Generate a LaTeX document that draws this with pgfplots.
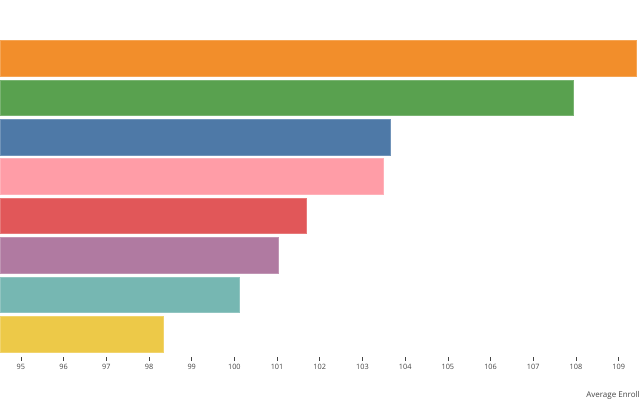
\documentclass[border=0pt]{standalone}
\usepackage{fontspec}
\setmainfont{Open Sans}
\usepackage{pgfplots}
\pgfplotsset{compat=1.18}
\definecolor{c1}{HTML}{F28E2B}
\definecolor{c2}{HTML}{59A14F}
\definecolor{c3}{HTML}{4E79A7}
\definecolor{c4}{HTML}{FF9DA7}
\definecolor{c5}{HTML}{E15759}
\definecolor{c6}{HTML}{B07AA1}
\definecolor{c7}{HTML}{76B7B2}
\definecolor{c8}{HTML}{EDC948}
\definecolor{tk}{HTML}{444444}
\begin{document}
\begin{tikzpicture}
\path[use as bounding box] (0,-32.25pt) rectangle (480pt,267.75pt);
\begin{axis}[
  at={(0,0)}, anchor=south west,
  scale only axis, width=480pt, height=267.75pt,
  xmin=94.51, xmax=109.50, ymin=-0.584, ymax=8.477,
  axis x line*=bottom, axis y line=none,
  x axis line style={draw=none},
  xtick={95,...,109},
  xtick style={draw=tk, line width=0.5pt},
  major tick length=3pt,
  tick align=outside,
  ytick=\empty,
  /pgf/number format/assume math mode=true,
  xticklabel style={font=\fontsize{5.5}{6}\selectfont, text=tk, yshift=1pt},
  xbar, bar width=0.9, bar shift=0pt,
  clip=false,
]
\addplot[fill=c1, draw=c1!80!white, line width=0.3pt] coordinates {(109.40,7)};
\addplot[fill=c2, draw=c2!80!white, line width=0.3pt] coordinates {(107.93,6)};
\addplot[fill=c3, draw=c3!80!white, line width=0.3pt] coordinates {(103.64,5)};
\addplot[fill=c4, draw=c4!80!white, line width=0.3pt] coordinates {(103.48,4)};
\addplot[fill=c5, draw=c5!80!white, line width=0.3pt] coordinates {(101.68,3)};
\addplot[fill=c6, draw=c6!80!white, line width=0.3pt] coordinates {(101.02,2)};
\addplot[fill=c7, draw=c7!80!white, line width=0.3pt] coordinates {(100.11,1)};
\addplot[fill=c8, draw=c8!80!white, line width=0.3pt] coordinates {(98.33,0)};
\end{axis}
\node[anchor=east, font=\fontsize{6}{7}\selectfont, text=tk, inner sep=0pt] at (480pt,-28.5pt) {Average Enroll};
\end{tikzpicture}
\end{document}
